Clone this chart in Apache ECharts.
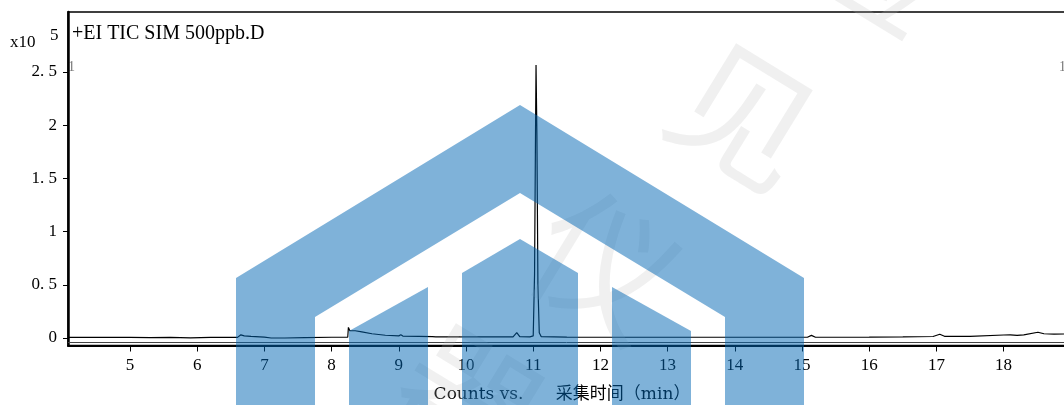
<!DOCTYPE html>
<html>
<head>
<meta charset="utf-8">
<script src="https://cdn.jsdelivr.net/npm/echarts@6/dist/echarts.min.js"></script>
<style>
html,body{margin:0;padding:0;background:#fff;}
#chart{width:1064px;height:405px;}
</style>
</head>
<body>
<div id="chart"></div>
<script>
// ---- data (retention time in min, counts x10^5) ----
var times = [4.08,4.5,5.0,5.3,5.6,5.9,6.2,6.5,6.6,6.65,6.7,6.8,7.0,7.1,7.3,7.6,8.0,8.24,8.25,8.27,8.35,8.45,8.6,8.8,9.0,9.03,9.06,9.3,9.5,9.52,9.55,10.0,10.5,10.7,10.755,10.8,10.95,11.0,11.02,11.035,11.042,11.055,11.07,11.09,11.12,11.5,12.0,13.0,14.0,15.08,15.14,15.2,16.0,16.5,16.95,17.05,17.12,17.5,18.0,18.1,18.2,18.3,18.51,18.6,18.75,18.96];
var counts = [0.005,0.005,0.006,0.004,0.006,0.002,0.005,0.005,0.006,0.03,0.02,0.015,0.008,0.0,0.0,0.004,0.007,0.007,0.1,0.07,0.068,0.058,0.04,0.026,0.02,0.03,0.018,0.015,0.012,0.02,0.011,0.01,0.01,0.011,0.05,0.012,0.01,0.02,0.6,2.0,2.566,1.9,0.5,0.05,0.012,0.008,0.007,0.007,0.007,0.007,0.025,0.007,0.008,0.01,0.014,0.035,0.016,0.016,0.028,0.03,0.024,0.03,0.054,0.04,0.037,0.038];
var xTicks = [5,6,7,8,9,10,11,12,13,14,15,16,17,18];
var yTicks = [0,0.5,1,1.5,2,2.5];
var yTickLabels = ['0','0. 5','1','1. 5','2','2. 5'];
var title = '+EI TIC SIM 500ppb.D';
var xName = 'Counts vs.      采集时间（min）';

var seriesData = times.map(function(t,i){return [t, counts[i]];});

var serif = 'Liberation Serif, DejaVu Serif, serif';
var chart = echarts.init(document.getElementById('chart'), null, {renderer:'canvas'});
var blue = 'rgba(0,102,180,0.5)';
var wm = 'rgba(185,185,185,0.22)';

chart.setOption({
  animation:false,
  backgroundColor:'#fff',
  grid:{left:68, top:12, right:-4, bottom:59.5, show:true, borderColor:'#000', borderWidth:1.5, backgroundColor:'transparent', containLabel:false, outerBoundsMode:'none'},
  xAxis:{
    type:'value', min:4.0774, max:18.958,
    axisLine:{show:true, onZero:false, lineStyle:{color:'#000', width:2}},
    axisTick:{show:true, customValues:xTicks, length:6, lineStyle:{color:'#000', width:1}},
    axisLabel:{customValues:xTicks, color:'#000', fontFamily:serif, fontSize:17, margin:12},
    splitLine:{show:false},
    name:xName, nameLocation:'middle', nameGap:49,
    nameTextStyle:{color:'#000', fontFamily:'DejaVu Serif, Noto Sans CJK SC, serif', fontSize:17, verticalAlign:'middle', padding:[0,12,0,0]}
  },
  yAxis:{
    type:'value', min:-0.0705, max:3.064,
    axisLine:{show:true, onZero:false, lineStyle:{color:'#000', width:2.5}},
    axisTick:{show:true, customValues:yTicks, length:5, lineStyle:{color:'#000', width:1}},
    axisLabel:{customValues:yTicks, color:'#000', fontFamily:serif, fontSize:17, margin:11,
      formatter:function(v){var i=yTicks.indexOf(Math.round(v*10)/10); return i>=0?yTickLabels[i]:'';}},
    splitLine:{show:false}
  },
  series:[{
    type:'line', data:seriesData, symbol:'none', smooth:false,
    lineStyle:{color:'#000', width:1.2},
    markLine:{silent:true, symbol:'none', label:{show:false},
      lineStyle:{color:'#444', width:1, type:'solid'},
      data:[{yAxis:-0.045}]}
  }],
  graphic:[
    {type:'text', left:72, top:24, style:{text:title, fill:'#000', font:'20px '+serif}},
    {type:'text', left:10, top:34, style:{text:'x10', fill:'#000', font:'17px '+serif}},
    {type:'text', left:50, top:27, style:{text:'5', fill:'#000', font:'17px '+serif}},
    {type:'text', left:68, top:60, style:{text:'1', fill:'#777', font:'14px '+serif}},
    {type:'text', left:1059, top:60, style:{text:'1', fill:'#777', font:'14px '+serif}},
    // gray watermark characters
    {type:'text', x:880, y:-40, rotation:-0.55, z:90, style:{text:'检', fill:wm, font:'140px Noto Sans CJK SC', align:'center', verticalAlign:'middle'}},
    {type:'text', x:745, y:115, rotation:-0.55, z:90, style:{text:'见', fill:wm, font:'140px Noto Sans CJK SC', align:'center', verticalAlign:'middle'}},
    {type:'text', x:605, y:265, rotation:-0.55, z:90, style:{text:'仪', fill:wm, font:'140px Noto Sans CJK SC', align:'center', verticalAlign:'middle'}},
    {type:'text', x:470, y:400, rotation:-0.55, z:90, style:{text:'器', fill:wm, font:'140px Noto Sans CJK SC', align:'center', verticalAlign:'middle'}},
    // blue house logo watermark
    {type:'polygon', z:100, shape:{points:[[236,405],[236,278],[520,105],[804,278],[804,405],[725,405],[725,317],[520,193],[315,317],[315,405]]}, style:{fill:blue}},
    {type:'polygon', z:100, shape:{points:[[349,405],[349,331],[428,287],[428,405]]}, style:{fill:blue}},
    {type:'polygon', z:100, shape:{points:[[462,405],[462,273],[520,239],[578,273],[578,405]]}, style:{fill:blue}},
    {type:'polygon', z:100, shape:{points:[[612,405],[612,287],[691,331],[691,405]]}, style:{fill:blue}}
  ]
});
</script>
</body>
</html>
